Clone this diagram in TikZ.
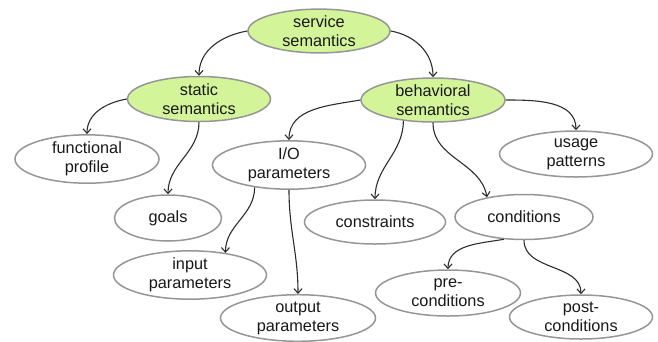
\documentclass[tikz,border=0pt]{standalone}
\usepackage{fontspec}
\setmainfont{Liberation Sans}
\usetikzlibrary{shapes.geometric,arrows.meta}
\definecolor{leafgreen}{RGB}{212,244,154}
\definecolor{rimgray}{RGB}{150,150,150}
\definecolor{linkgray}{RGB}{45,45,45}
\definecolor{txt}{RGB}{25,25,25}
\tikzset{
  oval/.style={ellipse, draw=rimgray, line width=1.5pt, fill=white, inner sep=0pt,
    align=center, text=txt, font=\fontsize{16.3}{19}\selectfont},
  greenoval/.style={oval, fill=leafgreen},
  link/.style={draw=linkgray, line width=1.1pt, -{Straight Barb[length=4.5pt,width=8pt]}}
}
\begin{document}
\begin{tikzpicture}[x=1pt,y=1pt]
\useasboundingbox (0,0) rectangle (658,-341);
\node[greenoval, minimum width=142pt, minimum height=43pt] (ss) at (319,-31) {service\\semantics};
\node[greenoval, minimum width=143pt, minimum height=45pt] (st) at (199,-99) {static\\semantics};
\node[greenoval, minimum width=144pt, minimum height=44pt] (bh) at (433,-100) {behavioral\\semantics};
\node[oval, minimum width=144pt, minimum height=44pt] (fp) at (87,-159) {functional\\profile};
\node[oval, minimum width=153pt, minimum height=45pt] (io) at (289,-165) {I/O\\parameters};
\node[oval, minimum width=153pt, minimum height=46pt] (us) at (576,-154) {usage\\patterns};
\node[oval, minimum width=107pt, minimum height=46pt] (go) at (168,-218) {goals};
\node[oval, minimum width=153pt, minimum height=44pt] (ip) at (190,-275) {input\\parameters};
\node[oval, minimum width=155pt, minimum height=44pt] (op) at (298,-318) {output\\parameters};
\node[oval, minimum width=141pt, minimum height=44pt] (co) at (375,-222) {constraints};
\node[oval, minimum width=138pt, minimum height=45pt] (cd) at (524,-217) {conditions};
\node[oval, minimum width=145pt, minimum height=46pt] (pre) at (448,-293) {pre-\\conditions};
\node[oval, minimum width=143pt, minimum height=44pt] (post) at (581,-317) {post-\\conditions};

\draw[link] (ss.west) to[out=190,in=90] (st.north);
\draw[link] (ss.east) to[out=-10,in=90] (bh.north);
\draw[link] (st.west) to[out=190,in=90] (fp.north);
\draw[link] (st.south) to[out=-90,in=90] (go.north);
\draw[link] (bh.west) to[out=190,in=90] (io.north);
\draw[link] (bh.215) to[out=-90,in=90] (co.north);
\draw[link] (bh.south) to[out=-90,in=100] (cd.152);
\draw[link] (bh.east) to[out=0,in=90] (us.north);
\draw[link] (io.213) to[out=-90,in=90] (ip.32);
\draw[link] (io.south) to[out=-90,in=90] (op.north);
\draw[link] (cd.228) to[out=190,in=90] (pre.north);
\draw[link] (cd.south) to[out=-90,in=90] (post.north);
\end{tikzpicture}
\end{document}
